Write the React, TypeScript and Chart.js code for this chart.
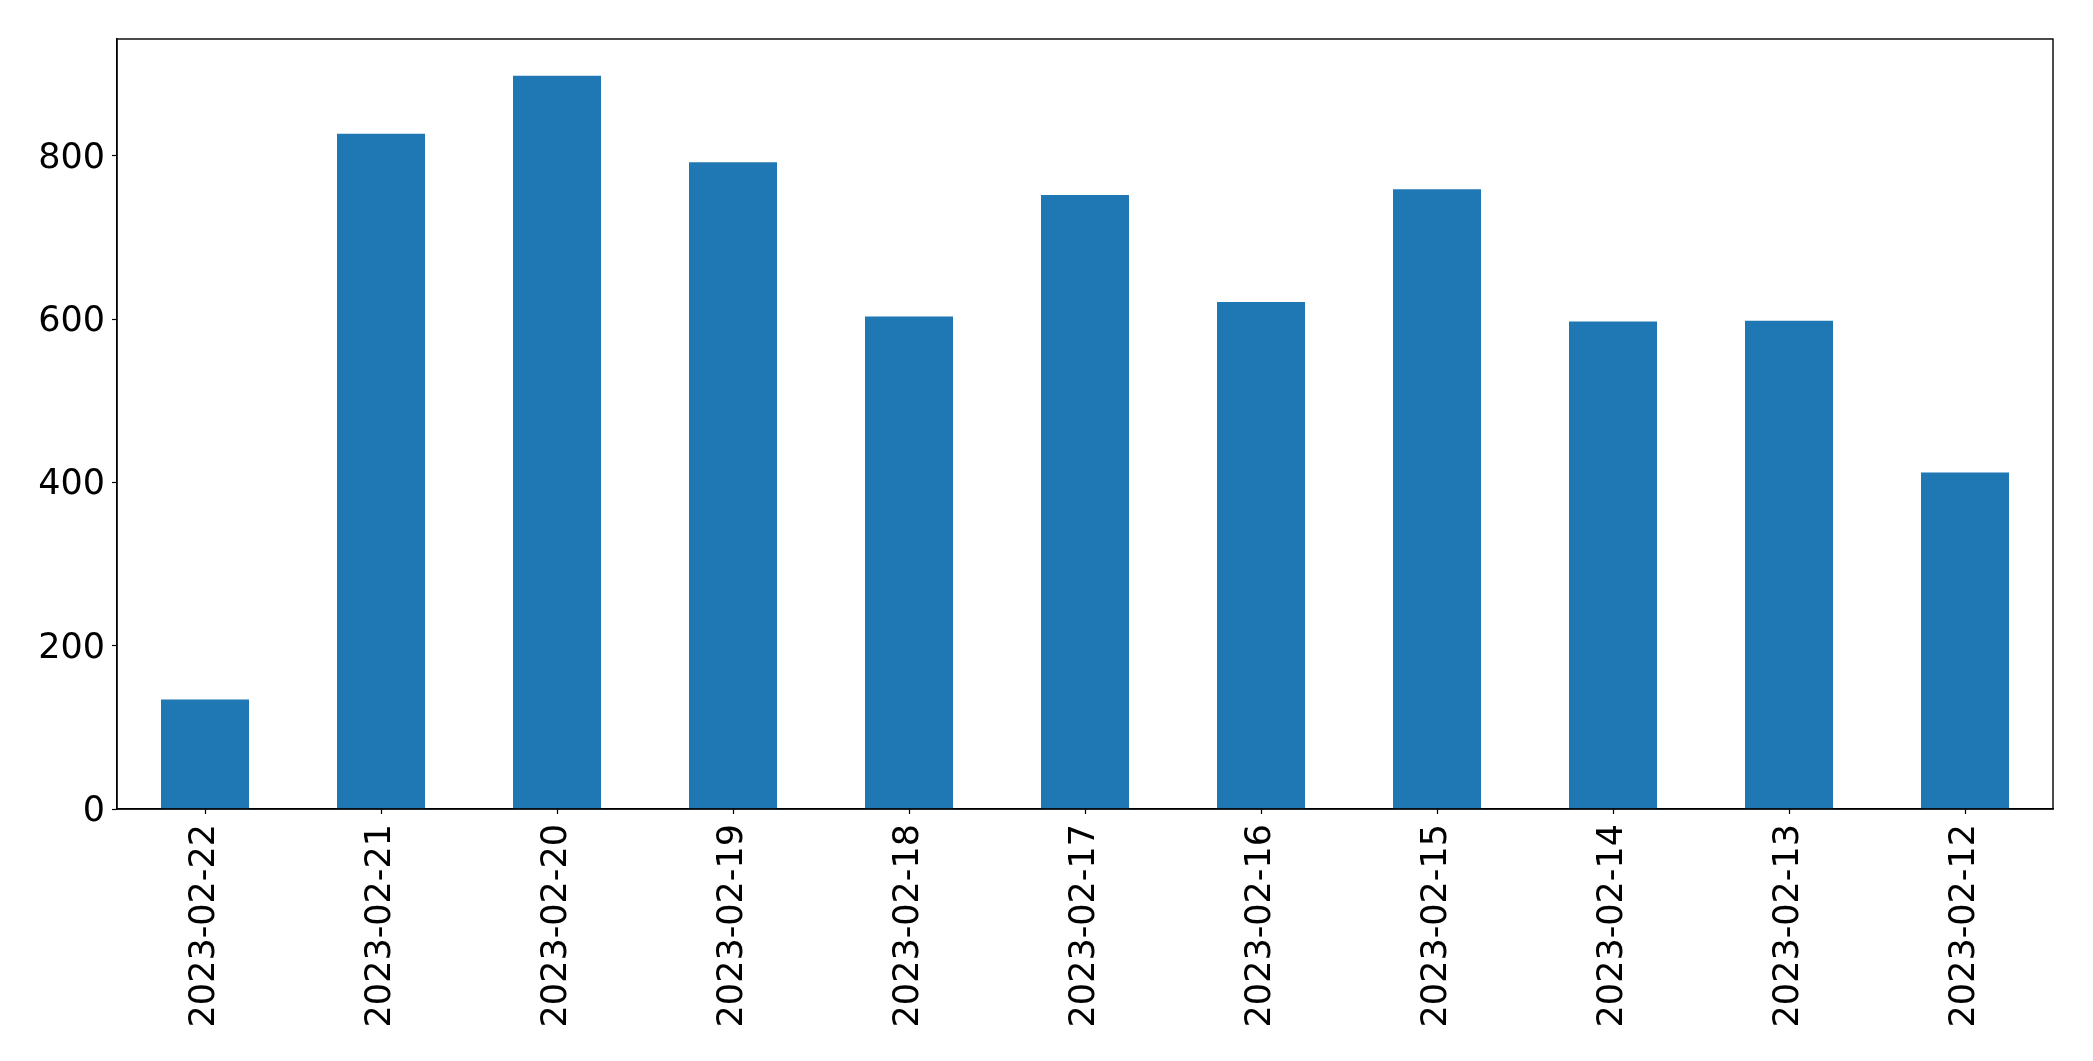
import React, { useEffect, useRef } from "react";
import { Chart, registerables } from "chart.js";

Chart.register(...registerables);

const categories = [
  "2023-02-22",
  "2023-02-21",
  "2023-02-20",
  "2023-02-19",
  "2023-02-18",
  "2023-02-17",
  "2023-02-16",
  "2023-02-15",
  "2023-02-14",
  "2023-02-13",
  "2023-02-12",
];

const values = [134, 827, 898, 792, 603, 752, 621, 759, 597, 598, 412];

const yTicks = [0, 200, 400, 600, 800];

const W = 2093;
const H = 1061;

const framePlugin = {
  id: "frame",
  afterDraw(chart: any) {
    const { ctx, chartArea } = chart;
    ctx.save();
    ctx.strokeStyle = "#000";
    ctx.lineWidth = 1.4;
    ctx.strokeRect(
      chartArea.left,
      chartArea.top,
      chartArea.right - chartArea.left,
      chartArea.bottom - chartArea.top
    );
    ctx.restore();
  },
};

export default function App() {
  const ref = useRef<HTMLCanvasElement | null>(null);

  useEffect(() => {
    if (!ref.current) return;
    const font = { family: "'DejaVu Sans'", size: 35 };
    const chart = new Chart(ref.current, {
      type: "bar",
      data: {
        labels: categories,
        datasets: [
          {
            data: values,
            backgroundColor: "#1f77b4",
            borderWidth: 0,
            categoryPercentage: 1,
            barPercentage: 0.5,
          },
        ],
      },
      options: {
        responsive: false,
        animation: false,
        devicePixelRatio: 1,
        layout: { padding: { left: 0, right: 40, top: 39, bottom: 0 } },
        plugins: {
          legend: { display: false },
          tooltip: { enabled: false },
        },
        scales: {
          x: {
            type: "category",
            offset: true,
            grid: {
              display: true,
              offset: false,
              drawOnChartArea: false,
              drawTicks: true,
              tickLength: 5,
              color: "#000",
              tickWidth: 1.2,
            },
            border: { display: true, color: "#000", width: 1.4 },
            ticks: {
              color: "#000",
              font,
              minRotation: 90,
              maxRotation: 90,
              autoSkip: false,
              padding: 10,
            },
            afterFit(scale: any) {
              scale.height = 252;
            },
          },
          y: {
            type: "linear",
            min: 0,
            max: 943,
            grid: {
              display: true,
              drawOnChartArea: false,
              drawTicks: true,
              tickLength: 5,
              color: "#000",
              tickWidth: 1.2,
            },
            border: { display: true, color: "#000", width: 1.4 },
            ticks: {
              color: "#000",
              font,
              stepSize: 200,
              includeBounds: false,
              padding: 7,
              labelOffset: 3,
            },
            afterBuildTicks(scale: any) {
              scale.ticks = yTicks.map((v) => ({ value: v }));
            },
            afterFit(scale: any) {
              scale.width = 117;
            },
          },
        },
      },
      plugins: [framePlugin],
    } as any);
    return () => chart.destroy();
  }, []);

  return (
    <div
      style={{
        position: "fixed",
        left: 0,
        top: 0,
        width: W,
        height: H,
        background: "#fff",
      }}
    >
      <canvas ref={ref} width={W} height={H} style={{ width: W, height: H }} />
    </div>
  );
}
